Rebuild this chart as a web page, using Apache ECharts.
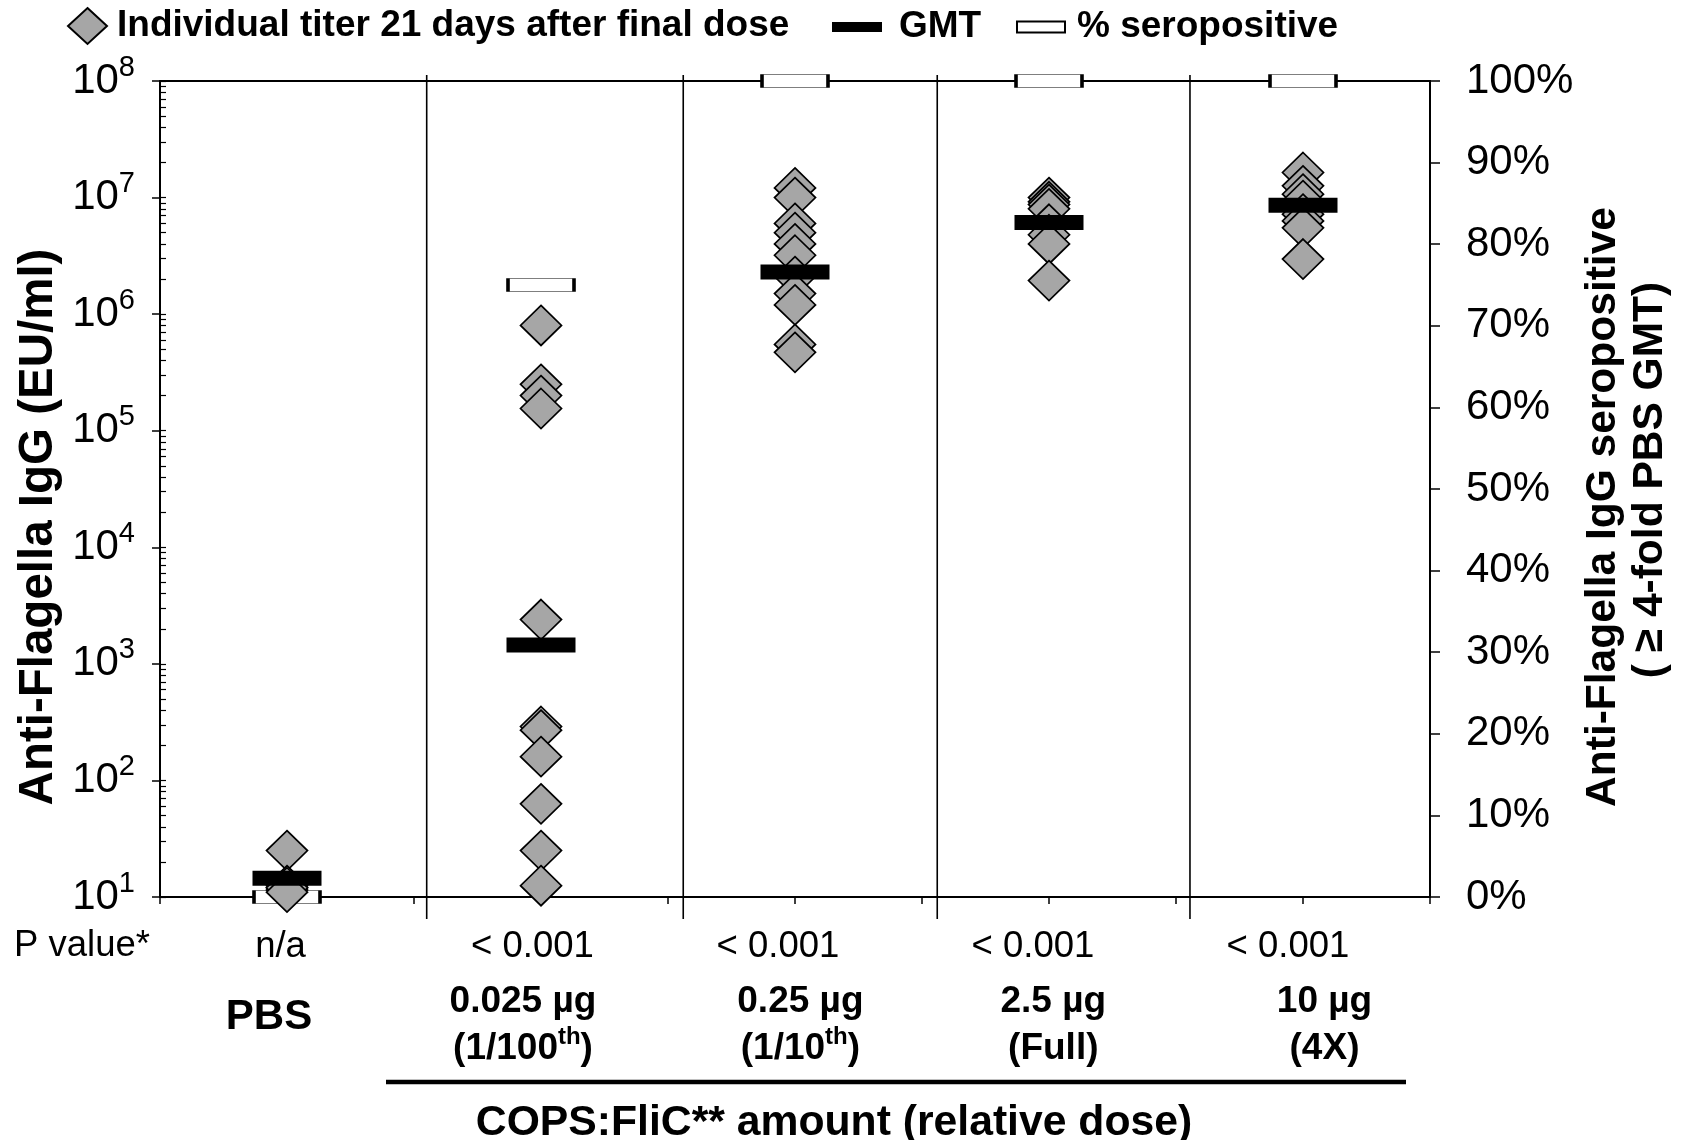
<!DOCTYPE html>
<html><head><meta charset="utf-8">
<script src="https://cdn.jsdelivr.net/npm/echarts@6/dist/echarts.min.js"></script>
<style>html,body{margin:0;padding:0;background:#fff}#c{width:1689px;height:1140px}</style>
</head><body><div id="c"></div>
<script>
// ---- data ----
const groupX = [0.5, 1.5, 2.5, 3.5, 4.5];
const doseLabels = ['PBS', '0.025 µg', '0.25 µg', '2.5 µg', '10 µg'];
const doseRelative = ['', '(1/100th)', '(1/10th)', '(Full)', '(4X)'];
const pValues = ['n/a', '< 0.001', '< 0.001', '< 0.001', '< 0.001'];
const titerPBS = [25, 12, 11.5, 12.5, 12, 11];
const titer0025 = [800000, 250000, 200000, 155000, 2400, 290, 270, 160, 63, 25, 12.5];
const titer025 = [12100000, 10000000, 6000000, 5000000, 4000000, 3200000, 2100000, 1500000, 1200000, 550000, 470000];
const titer25 = [10000000, 9200000, 8700000, 8000000, 5900000, 4800000, 4000000, 1940000];
const titer10 = [16400000, 12600000, 10700000, 9400000, 7200000, 6300000, 5500000, 2970000];
const gmtValues = [14.5, 1450, 2300000, 6100000, 8600000];
const seroPct = [0, 75, 100, 100, 100];
const dividerX = [1.05, 2.06, 3.06, 4.055];

// ---- layout constants (label nudges in px, not data) ----
const pLabelShift = [-6.5, -8.6, -17, -16, -15];
const doseLabelShift = [-18, -18, 5.4, 4.3, 21.5];

const FONT = '"Liberation Sans", Arial, sans-serif';
const S1 = 'Individual titer 21 days after final dose';
const S2 = 'GMT';
const S3 = '% seropositive';

const titers = [titerPBS, titer0025, titer025, titer25, titer10];
const diamondData = [];
titers.forEach((arr, i) => arr.forEach(v => diamondData.push([groupX[i], v])));
const gmtData = gmtValues.map((v, i) => [groupX[i], v]);
const seroData = seroPct.map((v, i) => [groupX[i], v]);

// minor tick positions for the log axis (in log10 space)
const minorTickPos = [];
for (let e = 1; e < 8; e++) for (let k = 1; k <= 9; k++) minorTickPos.push(e + Math.log10(k));
minorTickPos.push(8);

function groupIndex(v) { return (Math.abs(v % 1 - 0.5) < 1e-6) ? Math.floor(v) : -1; }

// rich text builders
const baseStyles = {
  p: {fontSize: 36.5, fontFamily: FONT, color: '#000'},
  g: {fontSize: 37, fontWeight: 'bold', fontFamily: FONT, color: '#000', lineHeight: 47},
  s: {fontSize: 24, fontWeight: 'bold', fontFamily: FONT, color: '#000', lineHeight: 34, verticalAlign: 'top'},
  pbs: {fontSize: 42, fontWeight: 'bold', fontFamily: FONT, color: '#000', lineHeight: 77}
};
const pRich = {}, doseRich = {};
function buildLine(rich, segs, idx, shift) {
  const left = shift > 0 ? 2 * shift : 0, right = shift < 0 ? -2 * shift : 0;
  return segs.map((sg, k) => {
    const first = k === 0, last = k === segs.length - 1;
    const key = sg[0] + idx + (first ? 'F' : '') + (last ? 'L' : '');
    rich[key] = Object.assign({}, baseStyles[sg[0]], {padding: [0, last ? right : 0, 0, first ? left : 0]});
    return '{' + key + '|' + sg[1] + '}';
  }).join('');
}
const pLabelStr = pValues.map((t, i) => buildLine(pRich, [['p', t]], i, pLabelShift[i]));
const doseLabelStr = doseLabels.map((t, i) => {
  if (!doseRelative[i]) return buildLine(doseRich, [['pbs', t]], i, doseLabelShift[i]);
  const l1 = buildLine(doseRich, [['g', t]], i + 'a', doseLabelShift[i]);
  const rel = doseRelative[i];
  let segs;
  if (rel.indexOf('th)') >= 0) segs = [['g', rel.replace('th)', '')], ['s', 'th'], ['g', ')']];
  else segs = [['g', rel]];
  const l2 = buildLine(doseRich, segs, i + 'b', doseLabelShift[i]);
  return l1 + '\n' + l2;
});

const chart = echarts.init(document.getElementById('c'), null, {renderer: 'canvas'});
const legendText = (pad) => ({fontSize: 37, fontWeight: 'bold', fontFamily: FONT, color: '#000', padding: [0, 0, 0, pad]});
const option = {
  animation: false,
  backgroundColor: '#fff',
  grid: {left: 160, top: 81, width: 1270, height: 816, containLabel: false},
  legend: [
    {data: [{name: S1, icon: 'diamond'}], left: 67, top: 7, padding: 0, itemWidth: 39, itemHeight: 36, selectedMode: false, textStyle: legendText(5)},
    {data: [{name: S2, icon: 'rect'}], left: 832, top: 8.5, padding: 0, itemWidth: 50, itemHeight: 10, selectedMode: false, textStyle: legendText(12)},
    {data: [{name: S3, icon: 'rect'}], left: 1016, top: 8.5, padding: 0, itemWidth: 48, itemHeight: 11, selectedMode: false, textStyle: legendText(7)}
  ],
  xAxis: [
    {type: 'value', min: 0, max: 5, interval: 0.5, position: 'bottom',
     axisLine: {show: true, onZero: false, lineStyle: {color: '#000', width: 2}},
     axisTick: {show: true, length: 7, lineStyle: {color: '#000', width: 1.5}},
     splitLine: {show: false},
     axisLabel: {margin: 31, color: '#000', rich: pRich,
       formatter: v => { const i = groupIndex(v); return i >= 0 ? pLabelStr[i] : ''; }}},
    {type: 'value', min: 0, max: 5, interval: 0.5, position: 'bottom',
     axisLine: {show: false}, axisTick: {show: false}, splitLine: {show: false},
     axisLabel: {margin: 81.5, color: '#000', rich: doseRich,
       formatter: v => { const i = groupIndex(v); return i >= 0 ? doseLabelStr[i] : ''; }}},
    {type: 'value', min: 0, max: 5, position: 'top', z: 0,
     axisLine: {show: true, onZero: false, lineStyle: {color: '#000', width: 2}},
     axisTick: {show: false}, axisLabel: {show: false}, splitLine: {show: false}}
  ],
  yAxis: [
    {type: 'log', logBase: 10, min: 10, max: 100000000, position: 'left',
     axisLine: {show: true, onZero: false, lineStyle: {color: '#000', width: 2}},
     axisTick: {show: true, length: 8, lineStyle: {color: '#000', width: 1.5}},
     splitLine: {show: false},
     axisLabel: {margin: 25, color: '#000',
       formatter: v => '{b|10}{s|' + Math.round(Math.log10(v)) + '}',
       rich: {
         b: {fontSize: 42, fontFamily: FONT, color: '#000', lineHeight: 56},
         s: {fontSize: 29, fontFamily: FONT, color: '#000', lineHeight: 50, verticalAlign: 'top'}
       }}},
    {type: 'value', min: 0, max: 100, interval: 10, position: 'right',
     axisLine: {show: true, onZero: false, lineStyle: {color: '#000', width: 2}},
     axisTick: {show: true, length: 10, lineStyle: {color: '#000', width: 1.5}},
     splitLine: {show: false},
     axisLabel: {margin: 36, fontSize: 42, fontFamily: FONT, color: '#000', formatter: '{value}%'}},
    {type: 'value', min: 1, max: 8, position: 'left',
     axisLine: {show: false}, splitLine: {show: false}, axisLabel: {show: false},
     axisTick: {show: true, inside: true, length: 6, customValues: minorTickPos, lineStyle: {color: '#000', width: 1.2}}}
  ],
  graphic: [
    {type: 'text', x: 39, y: 527, rotation: Math.PI / 2, silent: true,
     style: {text: 'Anti-Flagella IgG (EU/ml)', fontSize: 47.5, fontWeight: 'bold', fontFamily: FONT, fill: '#000', align: 'center', verticalAlign: 'middle'}},
    {type: 'text', x: 1603, y: 507, rotation: Math.PI / 2, silent: true,
     style: {text: 'Anti-Flagella IgG seropositive', fontSize: 42.5, fontWeight: 'bold', fontFamily: FONT, fill: '#000', align: 'center', verticalAlign: 'middle'}},
    {type: 'text', x: 1650, y: 480, rotation: Math.PI / 2, silent: true,
     style: {text: '( ≥ 4-fold PBS GMT)', fontSize: 42.5, fontWeight: 'bold', fontFamily: FONT, fill: '#000', align: 'center', verticalAlign: 'middle'}},
    {type: 'text', x: 82, y: 946, silent: true,
     style: {text: 'P value*', fontSize: 36.5, fontFamily: FONT, fill: '#000', align: 'center', verticalAlign: 'middle'}},
    {type: 'line', silent: true, shape: {x1: 386, y1: 1082, x2: 1406, y2: 1082}, style: {stroke: '#000', lineWidth: 4.5}},
    {type: 'text', x: 834, y: 1123, silent: true,
     style: {text: 'COPS:FliC** amount (relative dose)', fontSize: 42.7, fontWeight: 'bold', fontFamily: FONT, fill: '#000', align: 'center', verticalAlign: 'middle'}}
  ],
  series: [
    {type: 'custom', name: 'dividers', xAxisIndex: 0, yAxisIndex: 0, clip: false, silent: true,
     data: dividerX.map(x => [x, 10]), encode: {x: 0, y: 1},
     renderItem: (params, api) => {
       const top = api.coord([api.value(0), 100000000]);
       const bot = api.coord([api.value(0), 10]);
       return {type: 'line', shape: {x1: top[0], y1: top[1] - 6, x2: bot[0], y2: bot[1] + 22},
               style: {stroke: '#000', lineWidth: 1.6}};
     }},
    {type: 'scatter', name: S3, xAxisIndex: 0, yAxisIndex: 1, clip: false, data: seroData, z: 3,
     symbol: 'rect', symbolSize: [66, 13],
     itemStyle: {color: '#fff', borderColor: '#000', borderWidth: 1.6, opacity: 1}, emphasis: {disabled: true}},
    {type: 'scatter', name: S1, xAxisIndex: 0, yAxisIndex: 0, clip: false, data: diamondData, z: 4,
     symbol: 'diamond', symbolSize: [41, 40],
     itemStyle: {color: '#a6a6a6', borderColor: '#000', borderWidth: 1.7, opacity: 1}, emphasis: {disabled: true}},
    {type: 'scatter', name: S2, xAxisIndex: 0, yAxisIndex: 0, clip: false, data: gmtData, z: 5,
     symbol: 'rect', symbolSize: [69, 15],
     itemStyle: {color: '#000', opacity: 1}, emphasis: {disabled: true}}
  ]
};
chart.setOption(option);
</script>
</body></html>
